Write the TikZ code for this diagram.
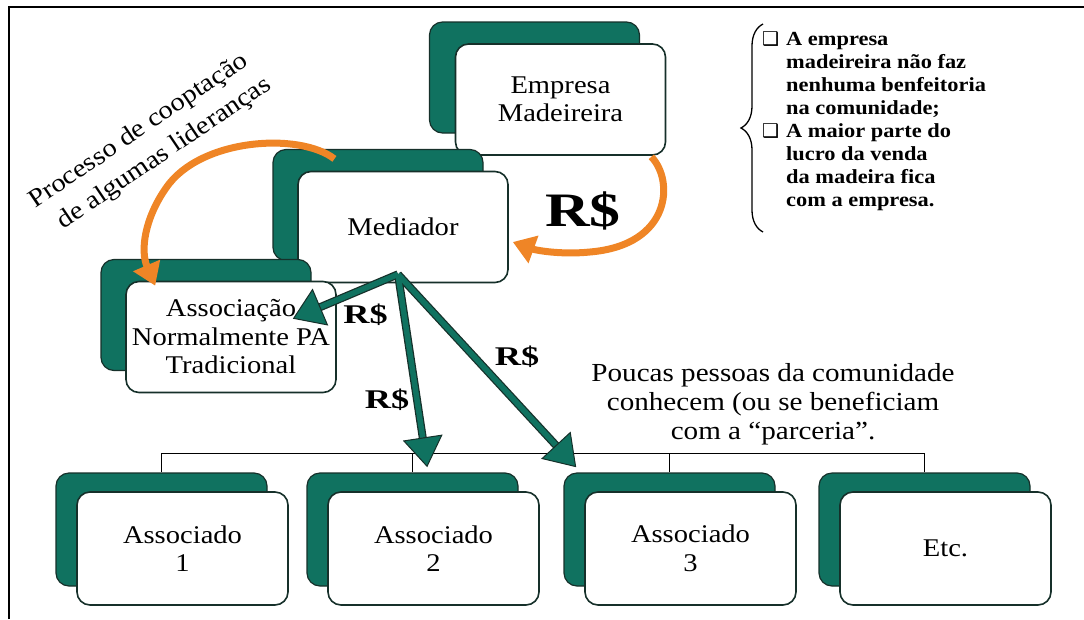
\documentclass[tikz,border=0pt]{standalone}
\usepackage{fontspec}
\setmainfont{Liberation Serif}[FakeStretch=1.12]
\newfontfamily\dejavu{DejaVu Sans}
\usetikzlibrary{arrows.meta,calc,decorations.pathreplacing}
\definecolor{mgreen}{RGB}{16,114,96}
\definecolor{edgec}{RGB}{22,48,42}
\definecolor{morange}{RGB}{239,133,38}
\newcommand\bxfont{\fontsize{25.5}{28.5}\selectfont}
\newcommand\cbx{\makebox[24pt][l]{\dejavu\fontsize{19}{23}\selectfont ❑}}
\begin{document}
\begin{tikzpicture}[x=1pt,y=-1pt,
  gbox/.style={draw=edgec,fill=mgreen,line width=1.2pt,rounded corners=13pt,inner sep=0pt,minimum width=210pt,minimum height=111pt},
  wbox/.style={draw=edgec,fill=white,line width=1.6pt,rounded corners=13pt,inner sep=0pt,minimum width=210pt,minimum height=111pt,align=center,font=\bxfont},
  gbot/.style={gbox,minimum width=211pt,minimum height=113pt},
  wbot/.style={wbox,minimum width=211pt,minimum height=113pt},
  bus/.style={draw=black,line width=1.3pt},
  rlabel/.style={font=\bfseries\fontsize{27}{27}\selectfont,xscale=1.2,inner sep=0pt},
  orangearr/.style={draw=morange,line width=7pt,-{Triangle[length=22pt,width=28pt]}},
  garrow/.style={draw=mgreen,line width=5.5pt,-{Triangle[length=30pt,width=40pt,line width=1pt,color=edgec,fill=mgreen]}},
  gunder/.style={draw=edgec,line width=8pt,shorten >=22pt}
]
\useasboundingbox (0,0) rectangle (1084,619);
\draw[line width=1.6pt] (9,619) -- (9,7) -- (1084,7);

% top boxes
\node[gbox] (empg) at (534.5,77.5) {};
\node[wbox] (emp) at ($(empg)+(26,22)$) {Empresa\\Madeireira};
\node[gbox] (medg) at (378,205) {};
\node[wbox] (med) at ($(medg)+(25,22)$) {Mediador};
\node[gbox] (assg) at (206,315) {};
\node[wbox] (ass) at ($(assg)+(25,22)$) {Associação\\Normalmente PA\\Tradicional};

% bottom boxes
\node[gbot] (g1) at (161.5,529.5) {};
\node[wbot] (w1) at ($(g1)+(21,19)$) {Associado\\1};
\node[gbot] (g2) at (412.5,529.5) {};
\node[wbot] (w2) at ($(g2)+(21,19)$) {Associado\\2};
\node[gbot] (g3) at (669.5,529.5) {};
\node[wbot] (w3) at ($(g3)+(21,19)$) {Associado\\3};
\node[gbot] (g4) at (924.5,529.5) {};
\node[wbot] (w4) at ($(g4)+(21,19)$) {Etc.};

% bus
\draw[bus] (g1.north) -- ++(0,-19) -| (g4.north);
\draw[bus] (g2.north) -- ++(0,-19);
\draw[bus] (g3.north) -- ++(0,-19);

% green arrows
\coordinate (hub) at ($(med.south)+(-5,-9)$);
\coordinate (t1) at ($(ass.north east)+(-44,38)$);
\coordinate (t2) at ($(w2.north west)+(100,-24)$);
\coordinate (t3) at ($(w3.north west)+(-8,-24)$);
\foreach \t in {t1,t2,t3} {\draw[gunder] (hub) -- (\t);}
\foreach \t in {t1,t2,t3} {\draw[garrow] (hub) -- (\t);}

\node[rlabel] (r1) at (365.5,314.5) {R\$};
\node[rlabel] (r2) at (387,400) {R\$};
\node[rlabel] (r3) at (517,357) {R\$};
\node[font=\bfseries\fontsize{48}{48}\selectfont,xscale=1.15,inner sep=0pt] (rbig) at (583,211) {R\$};

% orange arrows
\draw[orangearr] ($(emp.south east)+(-15,1)$) .. controls (674,180) and (672,245) .. (590,252) .. controls (560,255) and (535,250) .. ($(med.east)+(4,15)$);
\draw[orangearr] ($(medg.north west)+(62,10)$) .. controls (300,132) and (200,138) .. (166,188) .. controls (145,218) and (140,250) .. ($(ass.north west)+(30,5)$);

% rotated text
\node[rotate=34,font=\fontsize{25.5}{33}\selectfont,align=center] (proc) at (148,145) {Processo de cooptação\\\hspace*{18pt}de algumas lideranças};

% notes
\draw[line width=1.3pt,decorate,decoration={brace,amplitude=22pt}] (763,232) -- (763,24);
\node[anchor=north west,align=left,inner sep=0pt,font=\bfseries\fontsize{20}{23}\selectfont] (notes) at (762,31)
{\cbx A empresa\\ \hspace*{24pt}madeireira não faz\\ \hspace*{24pt}nenhuma benfeitoria\\ \hspace*{24pt}na comunidade;\\
 \cbx A maior parte do\\ \hspace*{24pt}lucro da venda\\ \hspace*{24pt}da madeira fica\\ \hspace*{24pt}com a empresa.};

\node[align=center,font=\fontsize{26}{29}\selectfont] (poucas) at (773,404) {Poucas pessoas da comunidade\\conhecem (ou se beneficiam\\com a “parceria”.};
\end{tikzpicture}
\end{document}
